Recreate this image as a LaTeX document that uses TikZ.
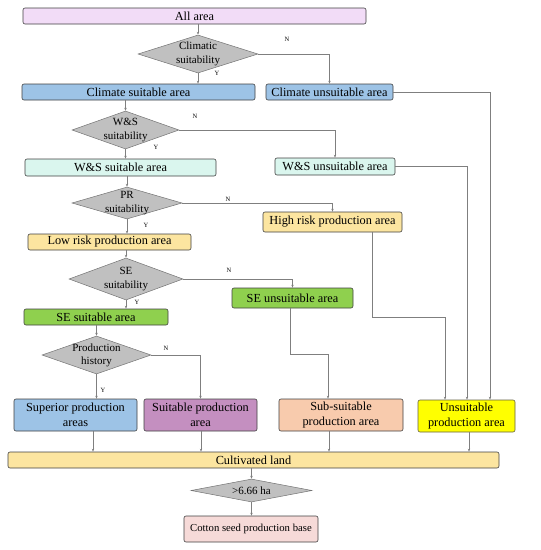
\documentclass[tikz,border=0pt]{standalone}
\usepackage{fontspec}
\setmainfont{Liberation Serif}
\usetikzlibrary{shapes.geometric,arrows.meta,calc}
\definecolor{cAll}{HTML}{F2DCF7}
\definecolor{cBlue}{HTML}{9DC3E6}
\definecolor{cMint}{HTML}{DAF6EE}
\definecolor{cGold}{HTML}{FCE5A0}
\definecolor{cGreen}{HTML}{8FD04E}
\definecolor{cPurple}{HTML}{C48FC0}
\definecolor{cPeach}{HTML}{F8CBAD}
\definecolor{cYellow}{HTML}{FFFF00}
\definecolor{cPink}{HTML}{F6DAD8}
\definecolor{cDia}{HTML}{C0C0C0}
\definecolor{cLine}{HTML}{7F7F7F}
\begin{document}
\begin{tikzpicture}[x=1pt,y=-1pt,
  box/.style={draw=black!75, line width=0.6pt, rounded corners=2pt, inner sep=0pt, align=center,
    font=\fontsize{12.3}{15}\selectfont},
  dia/.style={diamond, draw=black!55, fill=cDia, line width=0.5pt, inner sep=0pt},
  dtext/.style={align=center, inner sep=0pt, font=\fontsize{11}{14}\selectfont},
  yn/.style={inner sep=0pt, font=\fontsize{6.5}{7}\selectfont},
  arr/.style={draw=cLine, line width=0.6pt, -{Stealth[length=3pt,width=2.4pt]}},
  ln/.style={draw=cLine, line width=0.6pt}]
\useasboundingbox (0,0) rectangle (541,550);
% boxes
\node[box, fill=cAll, minimum width=343, minimum height=16] (all) at (194.5,16) {All area};
\node[box, fill=cBlue, minimum width=233, minimum height=16] (cs) at (138.5,92) {Climate suitable area};
\node[box, fill=cBlue, minimum width=127, minimum height=16] (cu) at (329.5,92) {Climate unsuitable area};
\node[box, fill=cMint, minimum width=191, minimum height=17] (wss) at (120.5,167.5) {W\&S suitable area};
\node[box, fill=cMint, minimum width=120, minimum height=17] (wsu) at (335,166.5) {W\&S unsuitable area};
\node[box, fill=cGold, minimum width=139, minimum height=20] (hr) at (332.5,222) {High risk production area};
\node[box, fill=cGold, minimum width=163, minimum height=16] (lr) at (109.5,242) {Low risk production area};
\node[box, fill=cGreen, minimum width=121, minimum height=20] (seu) at (292.5,298) {SE unsuitable area};
\node[box, fill=cGreen, minimum width=144, minimum height=16] (ses) at (96,317) {SE suitable area};
\node[box, fill=cBlue, minimum width=123, minimum height=32] (sup) at (75.5,415) {Superior production\\areas};
\node[box, fill=cPurple, minimum width=113, minimum height=32] (sui) at (200.5,415) {Suitable production\\area};
\node[box, fill=cPeach, minimum width=124, minimum height=32] (sub) at (341,415) {Sub-suitable\\production area};
\node[box, fill=cYellow, draw=black!70!yellow, minimum width=97, minimum height=32] (uns) at (466.5,416) {Unsuitable\\production area};
\node[box, fill=cGold, minimum width=491, minimum height=16] (cl) at (253.5,460) {Cultivated land};
\node[box, fill=cPink, minimum width=134, minimum height=26, font=\fontsize{10.7}{13}\selectfont] (base) at (251,529) {Cotton seed production base};
% diamonds
\node[dia, minimum width=120, minimum height=38] (d1) at (198,54) {};
\node[dtext] (d1t) at (d1) {Climatic\\suitability};
\node[dia, minimum width=107, minimum height=38] (d2) at (125.5,130) {};
\node[dtext] (d2t) at (d2) {W\&S\\suitability};
\node[dia, minimum width=110, minimum height=32] (d3) at (127,203) {};
\node[dtext] (d3t) at (d3) {PR\\suitability};
\node[dia, minimum width=114, minimum height=42] (d4) at (126,279) {};
\node[dtext] (d4t) at (d4) {SE\\suitability};
\node[dia, minimum width=109, minimum height=38] (d5) at (96.5,355) {};
\node[dtext, font=\fontsize{11}{13}\selectfont] (d5t) at (d5) {Production\\history};
\node[dia, minimum width=121, minimum height=23] (d6) at (251.5,490.5) {};
\node[dtext] (d6t) at (d6) {>6.66 ha};
% Y / N labels
\node[yn] (n1) at (287,39) {N};
\node[yn] (y1) at (217,73) {Y};
\node[yn] (n2) at (195,116) {N};
\node[yn] (y2) at (156,147) {Y};
\node[yn] (n3) at (228,199) {N};
\node[yn] (y3) at (146,225) {Y};
\node[yn] (n4) at (229,270) {N};
\node[yn] (y4) at (137,302) {Y};
\node[yn] (n5) at (166,348) {N};
\node[yn] (y5) at (103,390) {Y};
% helper coordinates
\coordinate (u1) at ([xshift=-21.5pt]uns.north);
\coordinate (u2) at ([xshift=0.5pt]uns.north);
\coordinate (u3) at ([xshift=23.5pt]uns.north);
\coordinate (h1) at (372,317);
\coordinate (s1) at (290,354);
\coordinate (s2) at ([xshift=-13pt]sub.north);
\coordinate (c1) at ([xshift=17.5pt]sup.south);
\coordinate (c2) at ([xshift=0.5pt]sui.south);
\coordinate (c3) at ([xshift=-12pt]sub.south);
\coordinate (c4) at ([xshift=2.5pt]uns.south);
% connectors
\draw[arr] (d1|-all.south) -- (d1.north);
\draw[arr] (d1.east) -| (cu.north);
\draw[arr] (d1.south) -- (d1.south|-cs.north);
\draw[arr] (cu.east) -| (u3);
\draw[arr] (d2|-cs.south) -- (d2.north);
\draw[arr] (d2.east) -| (wsu.north);
\draw[arr] (d2.south) -- (d2.south|-wss.north);
\draw[arr] (wsu.east) -| (u2);
\draw[arr] (d3|-wss.south) -- (d3.north);
\draw[arr] (d3.east) -| (hr.north);
\draw[arr] (d3.south) -- (d3.south|-lr.north);
\draw[arr] (hr.south-|h1) -- (h1) -| (u1);
\draw[arr] (d4|-lr.south) -- (d4.north);
\draw[arr] (d4.east) -| (seu.north);
\draw[arr] (d4.south) -- (d4.south|-ses.north);
\draw[arr] (seu.south-|s1) -- (s1) -| (s2);
\draw[arr] (d5|-ses.south) -- (d5.north);
\draw[arr] (d5.east) -| (sui.north);
\draw[arr] (d5.south) -- (d5.south|-sup.north);
\draw[arr] (c1) -- (c1|-cl.north);
\draw[arr] (c2) -- (c2|-cl.north);
\draw[arr] (c3) -- (c3|-cl.north);
\draw[arr] (c4) -- (c4|-cl.north);
\draw[arr] (d6|-cl.south) -- (d6.north);
\draw[arr] (d6.south) -- (d6.south|-base.north);
\end{tikzpicture}
\end{document}
